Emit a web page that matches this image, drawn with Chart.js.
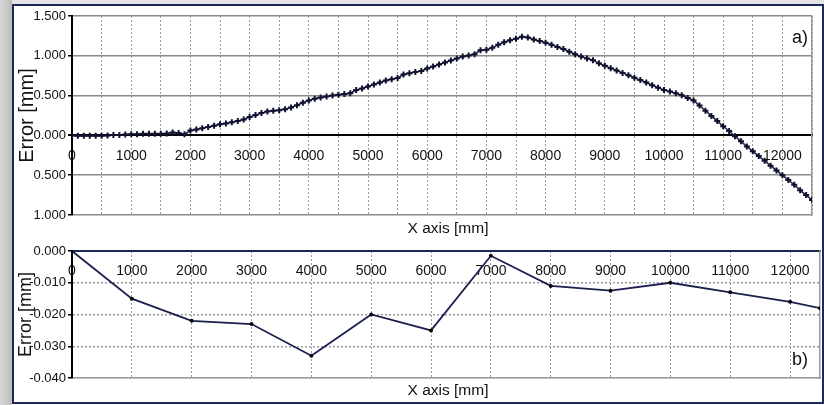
<!DOCTYPE html>
<html>
<head>
<meta charset="utf-8">
<script src="https://cdn.jsdelivr.net/npm/chart.js@4.4.1/dist/chart.umd.min.js"></script>
<style>
  html, body { margin: 0; padding: 0; background: #ffffff; }
  #wrap { position: relative; width: 824px; height: 405px; overflow: hidden; background: #ffffff; }
  #shadow { position: absolute; left: 0; top: 0; width: 12px; height: 405px; background: linear-gradient(to right, #d6d6d6, #bdbdbd); }
  #topshade { position: absolute; left: 0; top: 0; width: 824px; height: 4px; background: #e4e4e4; }
  #frame { position: absolute; left: 12px; top: 4px; width: 808px; height: 396px; border: 2px solid #1c2858; background: #fff; }
  canvas { position: absolute; left: 0; }
  .lbl { position: absolute; font-family: 'Liberation Sans', Arial, sans-serif; color: #111; white-space: nowrap; line-height: 1; }
</style>
</head>
<body>
<div id="wrap">
  <div id="topshade"></div>
  <div id="shadow"></div>
  <div id="frame"></div>
  <canvas id="c1" width="824" height="232" style="top:0px"></canvas>
  <canvas id="c2" width="824" height="173" style="top:232px"></canvas>
  <div class="lbl" style="left:368px; top:220px; width:160px; text-align:center; font-size:15.5px;">X axis [mm]</div>
  <div class="lbl" style="left:368px; top:382px; width:160px; text-align:center; font-size:15.5px;">X axis [mm]</div>
  <div class="lbl" style="left:792px; top:28px; font-size:18px;">a)</div>
  <div class="lbl" style="left:792px; top:350px; font-size:18px;">b)</div>
</div>
<script>
// ---- Panel a) : measured error along the X axis (every 100 mm) ----
const xTop = [0,100,200,300,400,500,600,700,800,900,
  1000,1100,1200,1300,1400,1500,1600,1700,1800,1900,
  2000,2100,2200,2300,2400,2500,2600,2700,2800,2900,
  3000,3100,3200,3300,3400,3500,3600,3700,3800,3900,
  4000,4100,4200,4300,4400,4500,4600,4700,4800,4900,
  5000,5100,5200,5300,5400,5500,5600,5700,5800,5900,
  6000,6100,6200,6300,6400,6500,6600,6700,6800,6900,
  7000,7100,7200,7300,7400,7500,7600,7700,7800,7900,
  8000,8100,8200,8300,8400,8500,8600,8700,8800,8900,
  9000,9100,9200,9300,9400,9500,9600,9700,9800,9900,
  10000,10100,10200,10300,10400,10500,10600,10700,10800,10900,
  11000,11100,11200,11300,11400,11500,11600,11700,11800,11900,
  12000,12100,12200,12300,12400,12500];
const errTop = [0.000,-0.005,-0.005,-0.005,-0.005,-0.005,0.000,0.005,0.005,0.010,
  0.015,0.015,0.020,0.020,0.020,0.020,0.025,0.035,0.030,0.015,
  0.060,0.075,0.090,0.105,0.120,0.140,0.150,0.165,0.180,0.200,
  0.230,0.255,0.280,0.300,0.310,0.315,0.330,0.350,0.380,0.410,
  0.440,0.460,0.475,0.490,0.500,0.510,0.520,0.530,0.570,0.590,
  0.615,0.640,0.665,0.690,0.705,0.720,0.765,0.780,0.795,0.810,
  0.840,0.865,0.890,0.915,0.940,0.965,0.990,1.005,1.020,1.070,
  1.075,1.100,1.140,1.170,1.195,1.215,1.240,1.230,1.205,1.185,
  1.165,1.140,1.110,1.085,1.050,1.020,0.990,0.965,0.945,0.905,
  0.875,0.845,0.815,0.785,0.755,0.725,0.695,0.665,0.630,0.600,
  0.570,0.550,0.530,0.505,0.470,0.440,0.375,0.310,0.245,0.180,
  0.115,0.055,-0.010,-0.075,-0.140,-0.200,-0.260,-0.320,-0.380,-0.440,
  -0.500,-0.560,-0.620,-0.690,-0.750,-0.810];

// ---- Panel b) ----
const xBottom = [0,1000,2000,3000,4000,5000,6000,7000,8000,9000,10000,11000,12000,12500];
const errBottom = [0.000,-0.015,-0.022,-0.023,-0.033,-0.020,-0.025,-0.0015,-0.011,-0.0125,-0.010,-0.013,-0.016,-0.018];

// ---- axis ticks ----
const xTicksTop = [0,500,1000,1500,2000,2500,3000,3500,4000,4500,5000,5500,6000,6500,
  7000,7500,8000,8500,9000,9500,10000,10500,11000,11500,12000,12500];
const xTicksBottom = [0,1000,2000,3000,4000,5000,6000,7000,8000,9000,10000,11000,12000];
const xLabeled = [0,1000,2000,3000,4000,5000,6000,7000,8000,9000,10000,11000,12000];
const yTopTicks = { min: -1, max: 1.5, step: 0.5 };
const yBottomTicks = { min: -0.04, max: 0, step: 0.01 };
const xRange = { min: 0, max: 12500 };

const NARROW = "'Liberation Sans Narrow', 'Liberation Sans', Arial, sans-serif";
const SANS = "'Liberation Sans', Arial, sans-serif";
const LINE = '#1b1f50';

function pts(xs, ys) { return xs.map((x, i) => ({ x: x, y: ys[i] })); }
function xLabel(v) { return xLabeled.indexOf(Math.round(v)) >= 0 ? String(Math.round(v)) : ''; }

new Chart(document.getElementById('c1'), {
  type: 'line',
  data: { datasets: [{
    data: pts(xTop, errTop),
    borderColor: LINE, borderWidth: 1.5,
    pointStyle: 'cross', pointRadius: 3, pointBorderWidth: 2,
    pointBorderColor: '#10122e', pointBackgroundColor: '#10122e',
    tension: 0
  }]},
  options: {
    responsive: false, animation: false, devicePixelRatio: 1,
    layout: { padding: { left: 15, right: 4, top: 16, bottom: 17 } },
    plugins: { legend: { display: false }, tooltip: { enabled: false } },
    scales: {
      x: {
        type: 'linear', min: xRange.min, max: xRange.max, position: { y: 0 },
        afterFit: s => { s.height = 0; },
        afterBuildTicks: s => { s.ticks = xTicksTop.map(v => ({ value: v })); },
        ticks: { autoSkip: false, maxRotation: 0, padding: 12,
          callback: xLabel,
          font: { family: NARROW, size: 14 }, color: '#111' },
        grid: { color: '#9a9a9a', lineWidth: 1, drawTicks: false },
        border: { display: true, color: '#000', width: 2, dash: [2, 2] }
      },
      y: {
        min: yTopTicks.min, max: yTopTicks.max,
        afterFit: s => { s.width = 57; },
        ticks: { stepSize: yTopTicks.step, padding: 2,
          callback: v => Math.abs(v).toFixed(3),
          font: { family: NARROW, size: 13 }, color: '#111' },
        grid: { color: c => (c.tick && c.tick.value === 0 ? '#000' : '#8a8a8a'),
          lineWidth: c => (c.tick && c.tick.value === 0 ? 2 : 1.5),
          tickLength: 4, tickColor: '#000' },
        border: { color: '#000', width: 2 },
        title: { display: true, text: 'Error [mm]', font: { family: SANS, size: 20 }, color: '#111', padding: 0 }
      },
      y2: {
        position: 'right', afterFit: s => { s.width = 0; },
        ticks: { display: false }, grid: { display: false, drawTicks: false },
        border: { color: '#9a9a9a', width: 1.5 }
      }
    }
  }
});

new Chart(document.getElementById('c2'), {
  type: 'line',
  data: { datasets: [{
    data: pts(xBottom, errBottom),
    borderColor: LINE, borderWidth: 1.8,
    pointStyle: 'circle', pointRadius: 2, pointBorderWidth: 0,
    pointBackgroundColor: '#0a0a0a',
    tension: 0
  }]},
  options: {
    responsive: false, animation: false, devicePixelRatio: 1,
    layout: { padding: { left: 15, right: 4, top: 19, bottom: 27 } },
    plugins: { legend: { display: false }, tooltip: { enabled: false } },
    scales: {
      x: {
        type: 'linear', min: xRange.min, max: xRange.max, position: { y: 0 },
        afterFit: s => { s.height = 0; },
        afterBuildTicks: s => { s.ticks = xTicksBottom.map(v => ({ value: v })); },
        ticks: { autoSkip: false, maxRotation: 0, padding: 12,
          callback: xLabel,
          font: { family: NARROW, size: 14 }, color: '#111' },
        grid: { color: '#9a9a9a', lineWidth: 1, drawTicks: false },
        border: { display: true, color: '#1c2858', width: 2, dash: [2, 2] }
      },
      x2: {
        type: 'linear', position: 'bottom', afterFit: s => { s.height = 0; },
        ticks: { display: false }, grid: { display: false, drawTicks: false },
        border: { color: '#9a9a9a', width: 1.5 }
      },
      y: {
        min: yBottomTicks.min, max: yBottomTicks.max,
        afterFit: s => { s.width = 57; },
        ticks: { stepSize: yBottomTicks.step, padding: 2,
          callback: v => (Math.abs(v) < 1e-9 ? '0.000' : v.toFixed(3)),
          font: { family: NARROW, size: 13 }, color: '#111' },
        grid: { color: '#9a9a9a', lineWidth: 1.5, tickLength: 4, tickColor: '#000' },
        border: { color: '#000', width: 2, dash: [2, 2] },
        title: { display: true, text: 'Error [mm]', font: { family: SANS, size: 18 }, color: '#111', padding: 0 }
      },
      y2: {
        position: 'right', afterFit: s => { s.width = 0; },
        ticks: { display: false }, grid: { display: false, drawTicks: false },
        border: { color: '#9a9a9a', width: 1.5 }
      }
    }
  }
});
</script>
</body>
</html>
